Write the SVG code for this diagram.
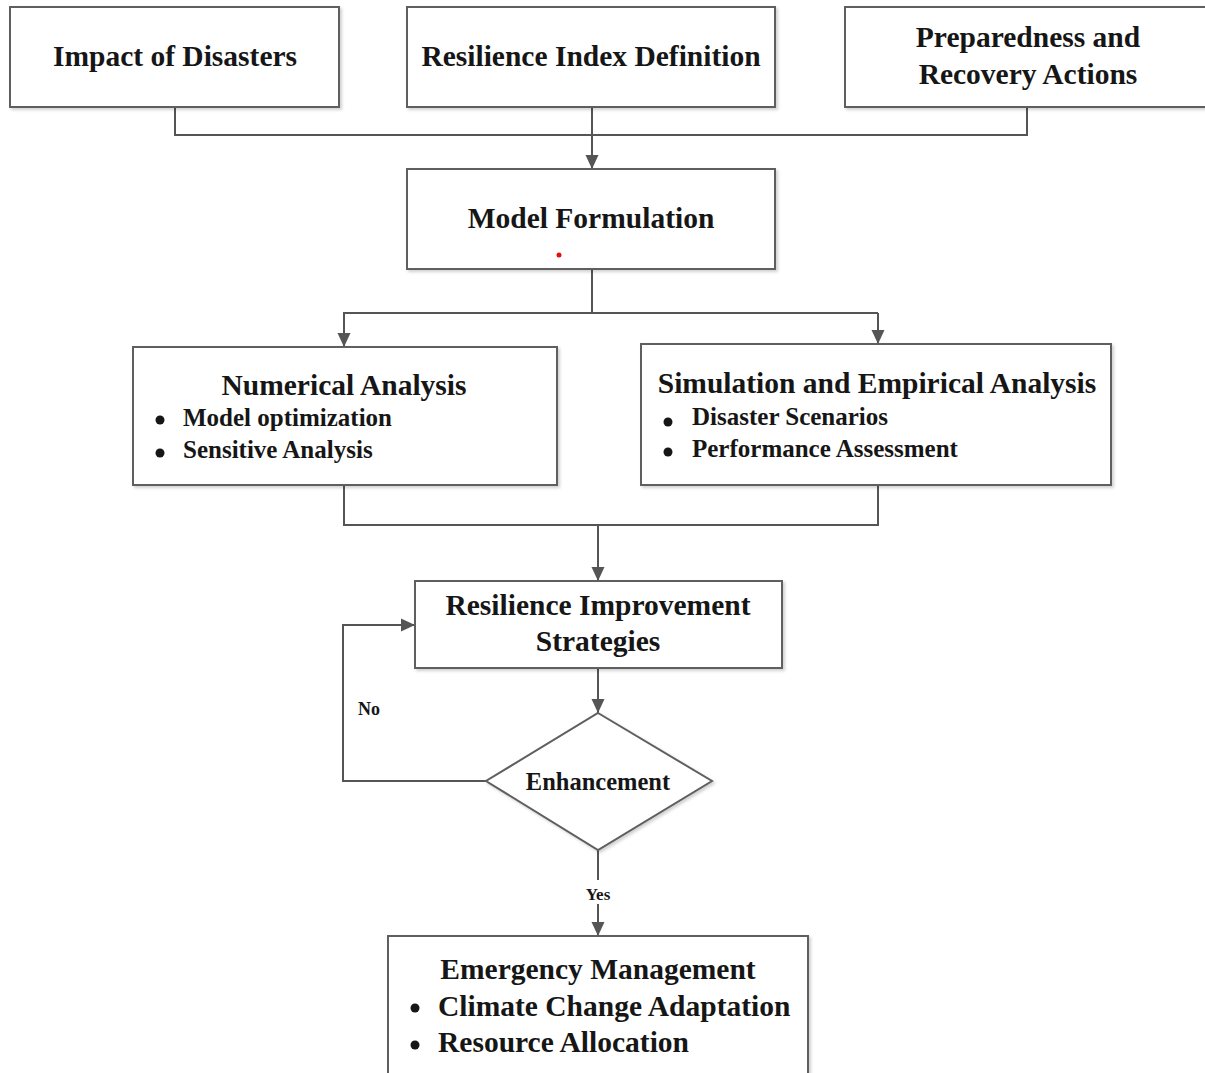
<svg xmlns="http://www.w3.org/2000/svg" width="1205" height="1073" viewBox="0 0 1205 1073">
<style>
.box{fill:#fff;stroke:#5f5f5f;stroke-width:2;filter:url(#sh)}
.t{font-family:"Liberation Serif","Times New Roman",serif;font-weight:bold;fill:#161616}
.t29{font-size:29.5px}
.t25{font-size:25px}
.mid{text-anchor:middle}
.con{fill:none;stroke:#555;stroke-width:2}
.dot{fill:#161616}
</style>
<defs>
<filter id="sh" x="-5%" y="-5%" width="110%" height="115%">
<feDropShadow dx="2" dy="2" stdDeviation="1.5" flood-color="#000" flood-opacity="0.18"/>
</filter>
<marker id="ah" viewBox="0 0 14 14" refX="14" refY="7" markerWidth="14" markerHeight="14" markerUnits="userSpaceOnUse" orient="auto">
<path d="M0,0.5 L14,7 L0,13.5 Z" fill="#555"/>
</marker>
</defs>
<rect width="1205" height="1073" fill="#fff"/>

<g id="connectors">
<path class="con" d="M175,107 V135 H1027 V107"/>
<path class="con" d="M592,107 V169" marker-end="url(#ah)"/>
<path class="con" d="M592,269 V313 H878"/>
<path class="con" d="M592,313 H344 V347" marker-end="url(#ah)"/>
<path class="con" d="M878,313 V344" marker-end="url(#ah)"/>
<path class="con" d="M344,485 V525 H878 V485"/>
<path class="con" d="M598,525 V581" marker-end="url(#ah)"/>
<path class="con" d="M598,668 V713" marker-end="url(#ah)"/>
<path class="con" d="M486,781 H343 V625 H415" marker-end="url(#ah)"/>
<path class="con" d="M598,850 V880"/>
<path class="con" d="M598,904 V936" marker-end="url(#ah)"/>
<text class="t mid" x="369" y="715" font-size="18">No</text>
<text class="t mid" x="598" y="900" font-size="17">Yes</text>
</g>

<g id="impact">
<rect class="box" x="10" y="7" width="329" height="100"/>
<text class="t t29 mid" x="175" y="66">Impact of Disasters</text>
</g>

<g id="resilience-index">
<rect class="box" x="407" y="7" width="368" height="100"/>
<text class="t t29 mid" x="591" y="66">Resilience Index Definition</text>
</g>

<g id="preparedness">
<rect class="box" x="845" y="7" width="370" height="100"/>
<text class="t t29 mid" x="1028" y="47">Preparedness and</text>
<text class="t t29 mid" x="1028" y="84">Recovery Actions</text>
</g>

<g id="model-formulation">
<rect class="box" x="407" y="169" width="368" height="100"/>
<text class="t t29 mid" x="591" y="228">Model Formulation</text>
<circle cx="559" cy="255" r="2.5" fill="#e01010"/>
</g>

<g id="numerical-analysis">
<rect class="box" x="133" y="347" width="424" height="138"/>
<text class="t t29 mid" x="344" y="395">Numerical Analysis</text>
<circle class="dot" cx="160" cy="420" r="4.5"/>
<text class="t t25" x="183" y="426">Model optimization</text>
<circle class="dot" cx="160" cy="453" r="4.5"/>
<text class="t t25" x="183" y="458">Sensitive Analysis</text>
</g>

<g id="simulation">
<rect class="box" x="641" y="344" width="470" height="141"/>
<text class="t t29 mid" x="877" y="393">Simulation and Empirical Analysis</text>
<circle class="dot" cx="668" cy="422" r="4.5"/>
<text class="t t25" x="692" y="425">Disaster Scenarios</text>
<circle class="dot" cx="668" cy="452" r="4.5"/>
<text class="t t25" x="692" y="457">Performance Assessment</text>
</g>

<g id="improvement">
<rect class="box" x="415" y="581" width="367" height="87"/>
<text class="t t29 mid" x="598" y="615">Resilience Improvement</text>
<text class="t t29 mid" x="598" y="651">Strategies</text>
</g>

<g id="enhancement">
<path class="box" d="M598,713 L712,781 L598,850 L486,781 Z"/>
<text class="t mid" x="598" y="790" font-size="24.5">Enhancement</text>
</g>

<g id="emergency">
<rect class="box" x="388" y="936" width="420" height="150"/>
<text class="t t29 mid" x="598" y="979">Emergency Management</text>
<circle class="dot" cx="415" cy="1008" r="4.5"/>
<text class="t t29" x="438" y="1016">Climate Change Adaptation</text>
<circle class="dot" cx="415" cy="1045" r="4.5"/>
<text class="t t29" x="438" y="1052">Resource Allocation</text>
</g>
</svg>
